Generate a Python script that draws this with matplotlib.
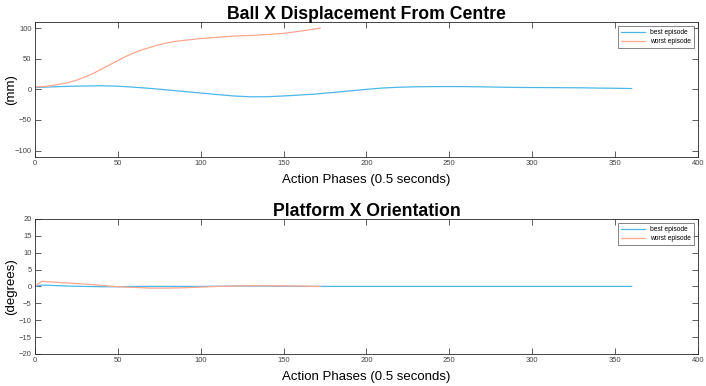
import matplotlib
matplotlib.use("Agg")
import matplotlib.pyplot as plt
import numpy as np

plt.rcParams['font.family'] = ['Liberation Sans', 'DejaVu Sans']

# ---- data ----
best_disp_x = [0, 10, 20, 30, 40, 50, 60, 70, 80, 90, 100, 110, 120, 130, 140, 150, 160,
               170, 180, 190, 200, 210, 220, 230, 240, 250, 260, 270, 280, 290, 300, 310,
               320, 330, 340, 350, 360]
best_disp = [3, 4, 5, 5.5, 5.8, 5.2, 3.5, 1.5, -1, -3.5, -6, -8.5, -10.8, -12.2, -12, -10.8, -9.2,
             -7.5, -5, -2.5, 0, 2.3, 3.5, 4.2, 4.5, 4.6, 4.5, 4.1, 3.6, 3.2, 3, 2.9,
             2.7, 2.5, 2.1, 1.8, 1.3]

worst_disp_x = [0, 5, 10, 15, 20, 25, 30, 35, 40, 45, 50, 55, 60, 65, 70, 75, 80, 85, 90,
                100, 110, 120, 130, 140, 150, 160, 172]
worst_disp = [4, 4.5, 6, 8.5, 11, 15, 20, 26, 33, 40, 47, 54, 60, 65, 69, 73, 76, 78.5, 80,
              83, 85, 87, 88, 89.5, 91.5, 95, 100]

best_ori_x = [0, 4, 10, 20, 30, 40, 50, 60, 80, 100, 120, 140, 160, 200, 250, 300, 360]
best_ori = [0, 0.4, 0.3, 0.1, 0, -0.1, -0.1, 0, 0, 0, 0.1, 0.1, 0, 0, 0, 0, 0]

worst_ori_x = [0, 4, 10, 20, 30, 40, 50, 60, 70, 80, 90, 100, 110, 120, 130, 140, 150, 160, 172]
worst_ori = [0, 1.5, 1.3, 1.0, 0.7, 0.3, -0.1, -0.3, -0.5, -0.5, -0.4, -0.2, 0, 0.1, 0.2, 0.2, 0.15, 0.1, 0]

blue = '#4DB8E8'
salmon = '#FFA68F'

fig = plt.figure(figsize=(7.06, 3.86), dpi=100)
ax1 = fig.add_axes([0.0496, 0.594, 0.939, 0.349])
ax2 = fig.add_axes([0.0496, 0.083, 0.939, 0.350])

def style(ax, ylim, yticks):
    ax.set_xlim(0, 400)
    ax.set_ylim(*ylim)
    ax.set_xticks(np.arange(0, 401, 50))
    ax.set_yticks(yticks)
    ax.tick_params(direction='in', top=True, right=True, length=4, width=0.6,
                   labelsize=5.5, colors='#444444', pad=2.5)
    for s in ax.spines.values():
        s.set_color('#262626')
        s.set_linewidth(0.6)

ax1.plot(best_disp_x, best_disp, color=blue, lw=0.9, label='best episode')
ax1.plot(worst_disp_x, worst_disp, color=salmon, lw=0.9, label='worst episode')
style(ax1, (-110, 110), [-100, -50, 0, 50, 100])
ax1.set_title('Ball X Displacement From Centre', fontsize=12.7, fontweight='bold', pad=2)
ax1.set_xlabel('Action Phases (0.5 seconds)', fontsize=9.5, labelpad=5)
ax1.set_ylabel('(mm)', fontsize=9.5)
ax1.yaxis.set_label_coords(-0.027, 0.5)

ax2.plot(best_ori_x, best_ori, color=blue, lw=0.9, label='best episode')
ax2.plot(worst_ori_x, worst_ori, color=salmon, lw=0.9, label='worst episode')
style(ax2, (-20, 20), np.arange(-20, 21, 5))
ax2.set_title('Platform X Orientation', fontsize=12.7, fontweight='bold', pad=2)
ax2.set_xlabel('Action Phases (0.5 seconds)', fontsize=9.5, labelpad=5)
ax2.set_ylabel('(degrees)', fontsize=9.5)
ax2.yaxis.set_label_coords(-0.027, 0.5)

for ax in (ax1, ax2):
    leg = ax.legend(loc='upper right', fontsize=4.8, frameon=True, fancybox=False,
                    borderaxespad=0.6, handlelength=3.5, borderpad=0.45, labelspacing=0.35)
    leg.get_frame().set_edgecolor('#262626')
    leg.get_frame().set_linewidth(0.5)

fig.savefig('out.png', dpi=100)
